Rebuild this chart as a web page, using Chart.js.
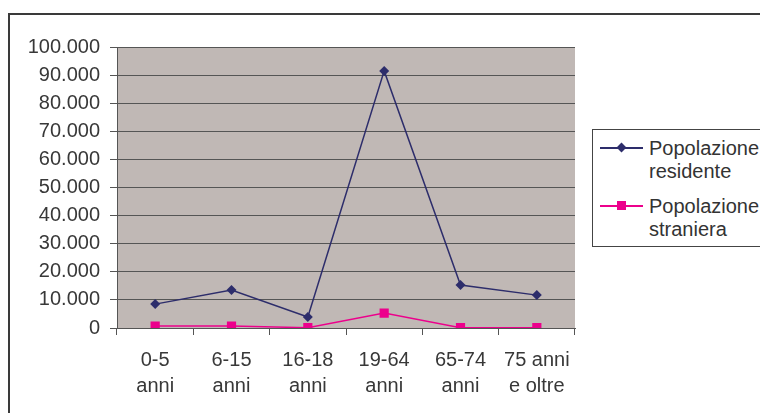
<!DOCTYPE html>
<html>
<head>
<meta charset="utf-8">
<script src="https://cdn.jsdelivr.net/npm/chart.js@4"></script>
<style>
  body { margin: 0; background: #fff; overflow: hidden; }
  #wrap { position: relative; width: 760px; height: 413px; overflow: hidden; font-family: "Liberation Sans", Arial, sans-serif; }
  #frame { position: absolute; left: 8px; top: 13px; width: 800px; height: 450px; border: 2px solid #3a3a3a; box-sizing: border-box; }
  #myChart { position: absolute; left: 0; top: 0; }
  #legend { position: absolute; left: 592px; top: 129px; width: 220px; height: 118px; border: 1px solid #444; box-sizing: border-box; background: #fff; }
  .item { position: absolute; left: 0; color: #333; font-size: 20px; line-height: 23px; }
  .item .txt { position: absolute; left: 56px; top: 0; white-space: nowrap; }
  .item .ln { position: absolute; left: 7px; width: 43px; height: 2px; top: 10px; }
  .item .mk { position: absolute; }
</style>
</head>
<body>
<div id="wrap">
  <div id="frame"></div>
  <canvas id="myChart" width="760" height="413"></canvas>
  <div id="legend"></div>
</div>
<script>
var categories = [['0-5', 'anni'], ['6-15', 'anni'], ['16-18', 'anni'], ['19-64', 'anni'], ['65-74', 'anni'], ['75 anni', 'e oltre']];
var residente = [8500, 13500, 3900, 91500, 15300, 11700];
var straniera = [700, 700, 100, 5300, 100, 100];
var seriesNames = [['Popolazione', 'residente'], ['Popolazione', 'straniera']];

var navy = '#2d2d6b';
var pink = '#ec008c';

function fmt(v) {
  return String(v).replace(/\B(?=(\d{3})+(?!\d))/g, '.');
}

// grey plot area like the excel chart
const plotBg = {
  id: 'plotBg',
  beforeDraw(chart) {
    const a = chart.chartArea;
    const ctx = chart.ctx;
    ctx.save();
    ctx.fillStyle = '#c0b8b5';
    ctx.fillRect(a.left, a.top, a.right - a.left, a.bottom - a.top);
    ctx.restore();
  }
};

const ctx = document.getElementById('myChart').getContext('2d');
var myChart = new Chart(ctx, {
  type: 'line',
  data: {
    labels: categories,
    datasets: [
      {
        label: seriesNames[0].join(' '),
        data: residente,
        borderColor: navy,
        backgroundColor: navy,
        borderWidth: 1.5,
        pointStyle: 'rectRot',
        pointRadius: 5,
        pointBorderWidth: 0,
        tension: 0,
        fill: false,
      },
      {
        label: seriesNames[1].join(' '),
        data: straniera,
        borderColor: pink,
        backgroundColor: pink,
        borderWidth: 1.5,
        pointStyle: 'rect',
        pointRadius: 6.5,
        pointBorderWidth: 0,
        tension: 0,
        fill: false,
      },
    ],
  },
  options: {
    responsive: false,
    animation: false,
    layout: { padding: { left: 0, top: 47, right: 185, bottom: 0 } },
    plugins: { legend: { display: false }, tooltip: { enabled: false } },
    scales: {
      x: {
        offset: true,
        grid: { offset: true, drawOnChartArea: false, color: '#555', tickLength: 7 },
        border: { color: '#555', width: 1 },
        ticks: { color: '#383838', font: { family: '"Liberation Sans", Arial', size: 20, lineHeight: 1.3 }, padding: 12, maxRotation: 0, autoSkip: false },
        afterFit(scale) { scale.height = 85; },
      },
      y: {
        min: 0,
        max: 100000,
        ticks: { stepSize: 10000, color: '#383838', font: { family: '"Liberation Sans", Arial', size: 20 }, padding: 10, callback: (v) => fmt(v) },
        grid: { color: '#555', tickLength: 7 },
        border: { color: '#555', width: 1 },
        afterFit(scale) { scale.width = 117; },
      },
    },
  },
  plugins: [plotBg],
});

// legend with two-line names, as in the original
var legend = document.getElementById('legend');
var colors = [navy, pink];
for (let i = 0; i < seriesNames.length; i++) {
  const item = document.createElement('div');
  item.className = 'item';
  item.style.top = (7 + i * 58) + 'px';
  item.style.width = '220px';
  item.style.height = '46px';
  const ln = document.createElement('div');
  ln.className = 'ln';
  ln.style.background = colors[i];
  const mk = document.createElement('div');
  mk.className = 'mk';
  mk.style.background = colors[i];
  if (i === 0) {
    mk.style.width = '7px'; mk.style.height = '7px';
    mk.style.left = '25px'; mk.style.top = '7px';
    mk.style.transform = 'rotate(45deg)';
  } else {
    mk.style.width = '9px'; mk.style.height = '9px';
    mk.style.left = '24px'; mk.style.top = '6px';
  }
  const txt = document.createElement('div');
  txt.className = 'txt';
  txt.innerHTML = seriesNames[i].join('<br>');
  item.appendChild(ln);
  item.appendChild(mk);
  item.appendChild(txt);
  legend.appendChild(item);
}
</script>
</body>
</html>
